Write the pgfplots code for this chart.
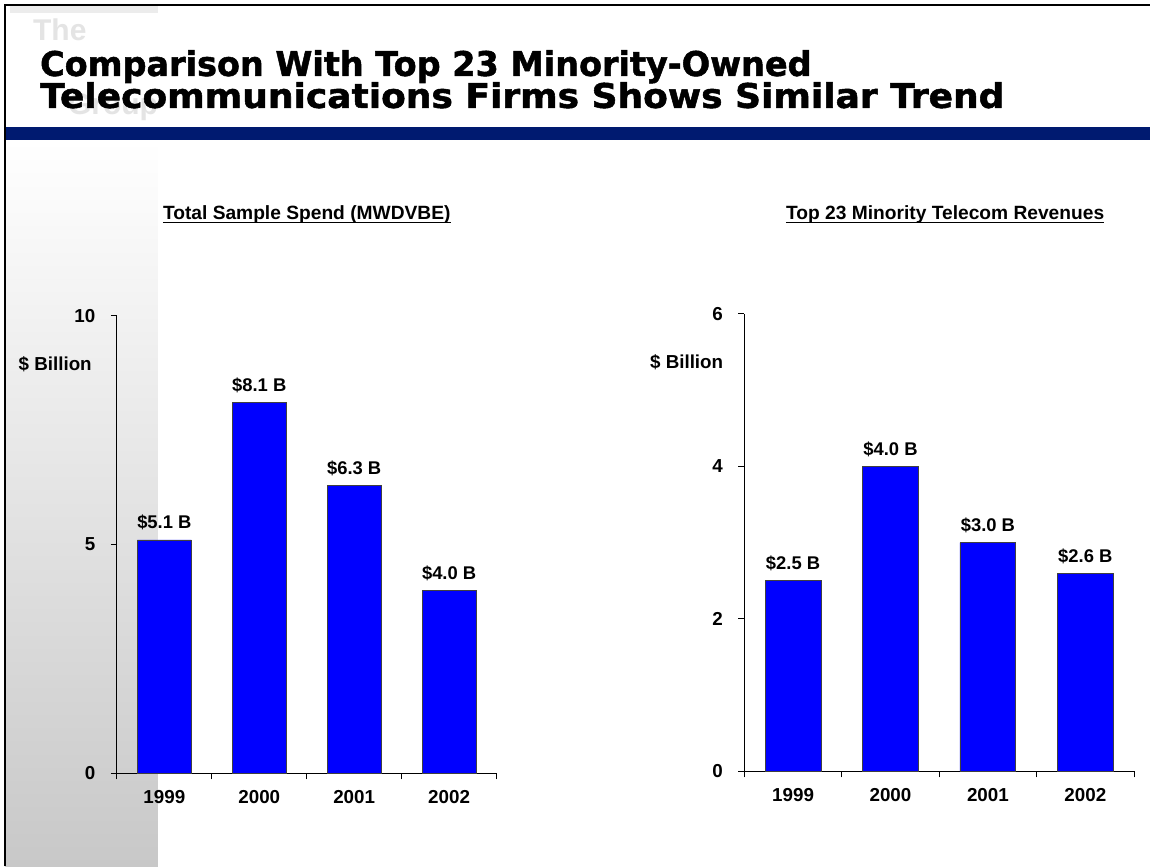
\documentclass[border=0pt]{standalone}
\usepackage{fontspec}
\usepackage{graphicx}
\setmainfont{Liberation Sans}
\newfontface\titlefont[FakeBold=1.5]{DejaVu Sans Bold}
\usepackage{pgfplots}
\pgfplotsset{compat=1.18}
\definecolor{navybar}{RGB}{0,26,112}
\definecolor{barblue}{RGB}{0,0,255}
\definecolor{botgray}{RGB}{200,200,200}
\definecolor{logogray}{RGB}{228,228,228}
\newcommand{\lab}{\bfseries\fontsize{18.8}{21}\selectfont}
\newcommand{\vlab}{\bfseries\fontsize{18.4}{21}\selectfont}
\pgfplotsset{
  mybar/.style={
    scale only axis, clip=false,
    xmin=-0.5, xmax=3.5, ymin=0,
    axis x line*=bottom, axis y line*=left,
    axis line style={black, line width=0.9pt},
    tick style={black, line width=0.9pt},
    tick align=outside, major tick length=6pt,
    xtick={-0.5,0.5,1.5,2.5,3.5}, xticklabels={},
    extra x ticks={0,1,2,3},
    extra x tick labels={1999,2000,2001,2002},
    extra x tick style={major tick length=0pt, tick style={draw=none}},
    ticklabel style={font=\lab},
    /pgf/number format/assume math mode=true,
    xticklabel style={yshift=-14pt},
    yticklabel style={xshift=-12pt},
  }
}
\begin{document}
\begin{tikzpicture}[x=1pt,y=1pt]
% background
\fill[white] (0,0) rectangle (1151,867);
\shade[top color=white, bottom color=botgray] (5,0) rectangle (158,727);
% logo
\fill[logogray!70] (10,854) rectangle (158,863);
\node[anchor=base west, text=logogray, font=\bfseries\fontsize{30}{30}\selectfont, inner sep=0] at (33,826) {The};
\node[anchor=base west, text=logogray, font=\bfseries\fontsize{30}{30}\selectfont, inner sep=0] at (68,752) {Group};
% title
\node[anchor=base west, inner sep=0, font=\titlefont\fontsize{34}{34}\selectfont] at (40,791) {\scalebox{0.985}[1]{Comparison With Top 23 Minority-Owned}};
\node[anchor=base west, inner sep=0, font=\titlefont\fontsize{34}{34}\selectfont] at (40,759) {\scalebox{1.06}[1]{Telecommunications Firms Shows Similar Trend}};
% blue bar
\fill[navybar] (5,727) rectangle (1151,740);
% frame
\draw[black, line width=2pt] (5,0) -- (5,862) -- (1151,862);
% subtitles
\node[anchor=base, inner sep=0, font=\bfseries\fontsize{19.2}{21}\selectfont] (s1) at (307,647) {Total Sample Spend (MWDVBE)};
\draw[line width=1.4pt] ([yshift=-3pt]s1.base west) -- ([yshift=-3pt]s1.base east);
\node[anchor=base, inner sep=0, font=\bfseries\fontsize{19.2}{21}\selectfont] (s2) at (946,647) {Top 23 Minority Telecom Revenues};
\draw[line width=1.4pt] ([yshift=-3pt]s2.base west) -- ([yshift=-3pt]s2.base east);
% y labels
\node[anchor=east, inner sep=0, font=\lab] at (92,502) {\$ Billion};
\node[anchor=east, inner sep=0, font=\lab] at (724,504) {\$ Billion};
% left chart
\begin{axis}[mybar, at={(117pt,93pt)}, anchor=south west, width=380pt, height=458pt, ymax=10, ytick={0,5,10}]
\addplot[ybar, bar width=54pt, fill=barblue, draw=black!75, line width=0.8pt,
  point meta=explicit symbolic, nodes near coords,
  every node near coord/.append style={font=\vlab, anchor=base, yshift=11pt, inner sep=0pt}]
  coordinates {(0,5.1) [\$5.1 B] (1,8.1) [\$8.1 B] (2,6.3) [\$6.3 B] (3,4.0) [\$4.0 B]};
\end{axis}
% right chart
\begin{axis}[mybar, at={(745pt,95pt)}, anchor=south west, width=390pt, height=458pt, ymax=6, ytick={0,2,4,6}]
\addplot[ybar, bar width=56pt, fill=barblue, draw=black!75, line width=0.8pt,
  point meta=explicit symbolic, nodes near coords,
  every node near coord/.append style={font=\vlab, anchor=base, yshift=11pt, inner sep=0pt}]
  coordinates {(0,2.5) [\$2.5 B] (1,4.0) [\$4.0 B] (2,3.0) [\$3.0 B] (3,2.6) [\$2.6 B]};
\end{axis}
\end{tikzpicture}
\end{document}
